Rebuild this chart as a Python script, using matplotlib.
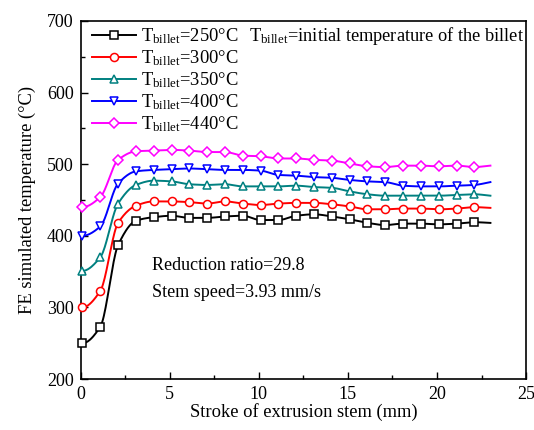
import numpy as np
import matplotlib
matplotlib.use("Agg")
import matplotlib.pyplot as plt
from matplotlib.ticker import MultipleLocator

plt.rcParams['font.family'] = ['Liberation Serif', 'DejaVu Serif']
plt.rcParams['mathtext.fontset'] = 'custom'
plt.rcParams['mathtext.rm'] = 'Liberation Serif'
plt.rcParams['mathtext.it'] = 'Liberation Serif:italic'

# stroke positions of the sampled points (last point has no marker)
stroke = [0.1, 1.1, 2.1, 3.1, 4.1, 5.1, 6.1, 7.1, 8.1, 9.1, 10.1, 11.1,
          12.1, 13.1, 14.1, 15.1, 16.1, 17.1, 18.1, 19.1, 20.1, 21.1, 22.1, 23.0]

t250 = [250, 273, 387, 421, 426, 428, 425, 425, 427, 428, 422, 422,
        428, 430, 427, 423, 418, 415, 417, 417, 416, 417, 419, 418]
t300 = [300, 323, 418, 442, 448, 448, 447, 445, 448, 445, 443, 445,
        446, 446, 444, 441, 437, 437, 438, 438, 437, 438, 440, 439]
t350 = [351, 370, 445, 471, 477, 476, 472, 471, 472, 469, 469, 469,
        470, 468, 467, 462, 458, 456, 456, 456, 456, 457, 458, 456]
t400 = [400, 413, 473, 490, 492, 493, 494, 493, 492, 492, 491, 485,
        484, 482, 481, 478, 476, 475, 470, 469, 469, 470, 471, 475]
t440 = [440, 454, 506, 518, 519, 520, 519, 517, 517, 512, 511, 508,
        508, 506, 505, 501, 497, 496, 498, 498, 497, 498, 496, 498]

labels = ['250', '300', '350', '400', '440']
colors = ['black', 'red', '#008080', 'blue', '#FF00FF']
markers = ['s', 'o', '^', 'v', 'D']
msizes = [5.2, 5.8, 6.2, 6.2, 5.4]


def smooth(x, y, n=20):
    """Monotone cubic (PCHIP-like) curve through the points, for drawing only."""
    x = np.asarray(x, float)
    y = np.asarray(y, float)
    h = np.diff(x)
    d = np.diff(y) / h
    m = np.zeros_like(y)
    for k in range(1, len(y) - 1):
        if d[k - 1] * d[k] > 0:
            w1 = 2 * h[k] + h[k - 1]
            w2 = h[k] + 2 * h[k - 1]
            m[k] = (w1 + w2) / (w1 / d[k - 1] + w2 / d[k])
    m[-1] = d[-1]
    xs, ys = [], []
    for k in range(len(h)):
        t = np.linspace(0, 1, n, endpoint=False)
        h00 = 2 * t**3 - 3 * t**2 + 1
        h10 = t**3 - 2 * t**2 + t
        h01 = -2 * t**3 + 3 * t**2
        h11 = t**3 - t**2
        xs.append(x[k] + t * h[k])
        ys.append(h00 * y[k] + h10 * h[k] * m[k] + h01 * y[k + 1] + h11 * h[k] * m[k + 1])
    xs.append([x[-1]])
    ys.append([y[-1]])
    return np.concatenate(xs), np.concatenate(ys)


fig = plt.figure(figsize=(5.34, 4.30), dpi=100)
ax = fig.add_axes([0.1511, 0.1186, 0.834, 0.8326])

for temps, lab, col, mk, ms in zip([t250, t300, t350, t400, t440], labels, colors, markers, msizes):
    xs, ys = smooth(stroke, temps)
    ax.plot(xs, ys, color=col, lw=1.4, zorder=2)
    ax.plot(stroke[:-1], temps[:-1], ls='none', marker=mk, ms=ms,
            mfc='white', mec=col, mew=1.1, zorder=3, clip_on=False)
    ax.plot([], [], color=col, lw=1.4, marker=mk, ms=ms,
            mfc='white', mec=col, mew=1.1,
            label=r'T$_{\rm billet}$=' + lab + '°C')

ax.set_xlim(0, 25)
ax.set_ylim(200, 700)
ax.xaxis.set_major_locator(MultipleLocator(5))
ax.xaxis.set_minor_locator(MultipleLocator(2.5))
ax.yaxis.set_major_locator(MultipleLocator(100))
ax.yaxis.set_minor_locator(MultipleLocator(50))
ax.tick_params(which='both', direction='in', labelsize=13, top=False, right=False)
ax.tick_params(which='major', length=5, width=1, pad=5)
ax.tick_params(which='minor', length=3, width=1)
for sp in ax.spines.values():
    sp.set_linewidth(1.2)

ax.set_xlabel('Stroke of extrusion stem (mm)', fontsize=13.3, labelpad=0)
ax.set_ylabel('FE simulated temperature (°C)', fontsize=13.3, labelpad=8)

ax.legend(loc='upper left', frameon=False, fontsize=13.3, handlelength=2.4,
          handletextpad=0.3, labelspacing=0.12, borderaxespad=0.1,
          borderpad=0.2, bbox_to_anchor=(0.012, 1.0))

ax.text(0.379, 0.957, r'T$_{\rm billet}$=initial temperature of the billet',
        transform=ax.transAxes, fontsize=13.2, va='center', ha='left')
ax.text(4.0, 358, 'Reduction ratio=29.8', fontsize=13, va='center', ha='left')
ax.text(4.0, 321, 'Stem speed=3.93 mm/s', fontsize=13, va='center', ha='left')

fig.savefig('out.png', dpi=100)
